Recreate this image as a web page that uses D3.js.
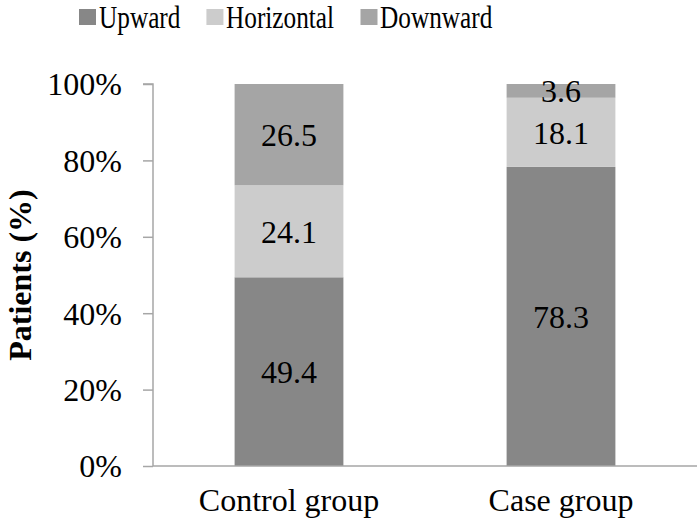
<!DOCTYPE html>
<html>
<head>
<meta charset="utf-8">
<script src="https://cdn.jsdelivr.net/npm/d3@7"></script>
<style>
  html, body { margin: 0; padding: 0; background: #fff; }
  svg { display: block; }
</style>
</head>
<body>
<svg id="chart" width="700" height="528"></svg>
<script>
const categories = ["Control group", "Case group"];
const seriesNames = ["Upward", "Horizontal", "Downward"];
const upward = [49.4, 78.3];
const horizontal = [24.1, 18.1];
const downward = [26.5, 3.6];
const yTicks = [0, 20, 40, 60, 80, 100];
const colors = ["#878787", "#cccccc", "#a5a5a5"];

const FONT = '"Liberation Serif"';
const FS = 32;

const rows = categories.map((c, i) => ({
  category: c, Upward: upward[i], Horizontal: horizontal[i], Downward: downward[i]
}));

const svg = d3.select("#chart");
const margin = { left: 153, right: 3, top: 84, bottom: 62 };
const W = 700, H = 528;

const x = d3.scaleBand().domain(categories)
  .range([margin.left, W - margin.right])
  .paddingInner(0.6).paddingOuter(0.3);
const y = d3.scaleLinear().domain([0, 100]).range([H - margin.bottom, margin.top]);

const stacked = d3.stack().keys(seriesNames)(rows);
const color = d3.scaleOrdinal().domain(seriesNames).range(colors);

// bars
const layers = svg.append("g").selectAll("g").data(stacked).join("g")
  .attr("fill", d => color(d.key));
layers.selectAll("rect").data(d => d).join("rect")
  .attr("x", d => x(d.data.category))
  .attr("width", x.bandwidth())
  .attr("y", d => y(d[1]))
  .attr("height", d => y(d[0]) - y(d[1]));

// labels
svg.append("g").selectAll("text")
  .data(stacked.flatMap(s => s.map(v => ({ v, key: s.key }))))
  .join("text")
  .attr("x", d => Math.round(x(d.v.data.category) + x.bandwidth() / 2))
  .attr("y", d => Math.round((y(d.v[0]) + y(d.v[1])) / 2 + FS * 0.36))
  .attr("text-anchor", "middle")
  .attr("font-family", FONT)
  .attr("font-size", FS)
  .attr("fill", "#000")
  .text(d => d.v.data[d.key].toFixed(1));

// y axis
const yAxis = d3.axisLeft(y).tickValues(yTicks).tickFormat(d => d + "%").tickSize(10).tickPadding(21);
const gy = svg.append("g").attr("transform", `translate(${margin.left},0)`).call(yAxis)
  .attr("font-family", FONT);
gy.select(".domain").attr("stroke", "#a6a6a6").attr("stroke-width", 1.5).attr("d", `M-10,${y(100)}H0V${y(0)}`);
gy.selectAll(".tick line").attr("stroke", "#a6a6a6").attr("stroke-width", 1.5);
gy.selectAll(".tick text").attr("font-size", FS).attr("fill", "#000").attr("dy", "0.34em");

// x axis
const xAxis = d3.axisBottom(x).tickSize(0).tickPadding(22);
const gx = svg.append("g").attr("transform", `translate(0,${y(0)})`).call(xAxis)
  .attr("font-family", FONT);
gx.select(".domain").attr("stroke", "#a6a6a6").attr("stroke-width", 1.5)
  .attr("d", `M${margin.left},0H${W - margin.right}`);
gx.selectAll(".tick text").attr("font-size", FS).attr("fill", "#000").attr("dy", "0.71em");

// y title
svg.append("text")
  .attr("transform", `translate(31,${(y(0) + y(100)) / 2}) rotate(-90)`)
  .attr("text-anchor", "middle")
  .attr("font-family", FONT)
  .attr("font-size", FS)
  .attr("font-weight", "bold")
  .attr("fill", "#000")
  .text("Patients (%)");

// legend (text horizontally condensed as in the reference)
const legend = svg.append("g");
let lx = 79;
const squeeze = 0.79;
seriesNames.forEach((name, i) => {
  legend.append("rect").attr("x", lx).attr("y", 9).attr("width", 17).attr("height", 16).attr("fill", colors[i]);
  const g = legend.append("g").attr("transform", `translate(${Math.round(lx + 20)},28) scale(${squeeze},1)`);
  const t = g.append("text").attr("x", 0).attr("y", 0)
    .attr("font-family", FONT).attr("font-size", FS).attr("fill", "#000").text(name);
  const len = t.node().getComputedTextLength() * squeeze;
  lx += 20 + len + 26;
});
</script>
</body>
</html>
